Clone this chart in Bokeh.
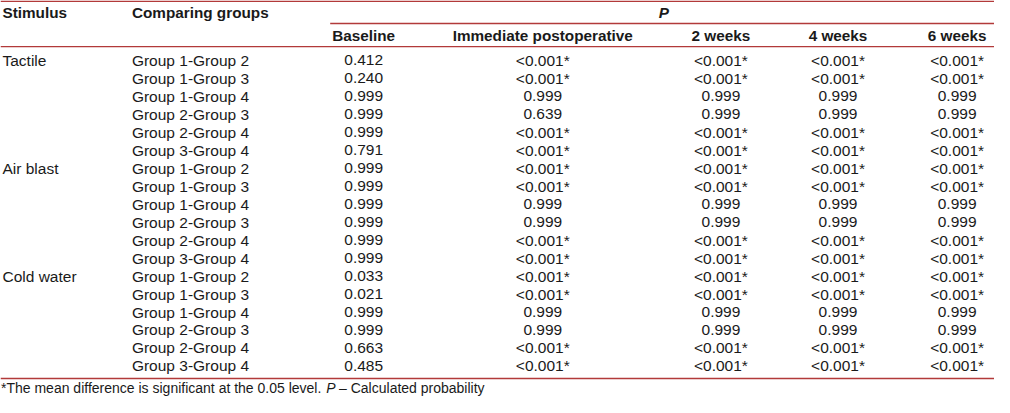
from bokeh.plotting import figure
from bokeh.models import Range1d, ColumnDataSource
from bokeh.core.properties import value
from bokeh.embed import file_html
from bokeh.resources import INLINE

# ---------------- data ----------------
stimuli = ["Tactile", "Air blast", "Cold water"]
comparisons = ["Group 1-Group 2", "Group 1-Group 3", "Group 1-Group 4",
               "Group 2-Group 3", "Group 2-Group 4", "Group 3-Group 4"]
time_points = ["Baseline", "Immediate postoperative", "2 weeks", "4 weeks", "6 weeks"]

baseline = ["0.412", "0.240", "0.999", "0.999", "0.999", "0.791",
            "0.999", "0.999", "0.999", "0.999", "0.999", "0.999",
            "0.033", "0.021", "0.999", "0.999", "0.663", "0.485"]
immediate = ["<0.001*", "<0.001*", "0.999", "0.639", "<0.001*", "<0.001*",
             "<0.001*", "<0.001*", "0.999", "0.999", "<0.001*", "<0.001*",
             "<0.001*", "<0.001*", "0.999", "0.999", "<0.001*", "<0.001*"]
week2 = ["<0.001*", "<0.001*", "0.999", "0.999", "<0.001*", "<0.001*",
         "<0.001*", "<0.001*", "0.999", "0.999", "<0.001*", "<0.001*",
         "<0.001*", "<0.001*", "0.999", "0.999", "<0.001*", "<0.001*"]
week4 = ["<0.001*", "<0.001*", "0.999", "0.999", "<0.001*", "<0.001*",
         "<0.001*", "<0.001*", "0.999", "0.999", "<0.001*", "<0.001*",
         "<0.001*", "<0.001*", "0.999", "0.999", "<0.001*", "<0.001*"]
week6 = ["<0.001*", "<0.001*", "0.999", "0.999", "<0.001*", "<0.001*",
         "<0.001*", "<0.001*", "0.999", "0.999", "<0.001*", "<0.001*",
         "<0.001*", "<0.001*", "0.999", "0.999", "<0.001*", "<0.001*"]

footer_note = "*The mean difference is significant at the 0.05 level."
footer_p = "P"
footer_rest = "\u2013 Calculated probability"

# ---------------- layout (reference pixel space) ----------------
W, H = 1010, 413
FONT = value("Liberation Sans")
RULE = "#b23a3a"
TXT = "#1a1a1a"
YOFF = -5.5          # screen-pixel correction of the text baseline
BODY = "15.5px"
HEAD = "15.3px"
FOOT = "14px"

col_x_stim = 2
col_x_grp = 133.5
col_centers = [369, 551, 732, 851, 972]
row0 = 67.7
row_step = 18.72

p = figure(width=994, height=397, output_backend="svg", toolbar_location=None,
           x_range=Range1d(0, W), y_range=Range1d(H, 0), min_border=0)
p.axis.visible = False
p.grid.visible = False
p.outline_line_color = None
p.background_fill_color = "white"
p.border_fill_color = "white"

common = dict(text_font=FONT, text_color=TXT, text_baseline="alphabetic", y_offset=YOFF)

# rules
p.segment(x0=[0, 335, 0, 0], x1=[W, W, W, W], y0=[0.8, 24, 48, 393.3],
          y1=[0.8, 24, 48, 393.3], line_color=RULE, line_width=1.4)

# header row 1
p.text(x=[col_x_stim, col_x_grp], y=[18.3, 18.3], text=["Stimulus", "Comparing groups"],
       text_font_size=HEAD, text_font_style="bold", text_align="left", **common)
p.text(x=[674], y=[18.3], text=["P"], text_font_size=HEAD,
       text_font_style="bold italic", text_align="center", **common)
# header row 2
p.text(x=col_centers, y=[41.7] * 5, text=time_points, text_font_size=HEAD,
       text_font_style="bold", text_align="center", **common)

# body
n_rows = len(stimuli) * len(comparisons)
row_y = [row0 + i * row_step for i in range(n_rows)]

stim_src = ColumnDataSource(dict(
    x=[col_x_stim] * len(stimuli),
    y=[row_y[i * len(comparisons)] for i in range(len(stimuli))],
    t=stimuli))
p.text(x="x", y="y", text="t", source=stim_src, text_font_size=BODY,
       text_align="left", **common)

grp_src = ColumnDataSource(dict(
    x=[col_x_grp] * n_rows, y=row_y, t=comparisons * len(stimuli)))
p.text(x="x", y="y", text="t", source=grp_src, text_font_size=BODY,
       text_align="left", **common)

xs, ys, ts = [], [], []
for cx, col in zip(col_centers, [baseline, immediate, week2, week4, week6]):
    for y, v in zip(row_y, col):
        xs.append(cx)
        ys.append(y)
        ts.append(v)
val_src = ColumnDataSource(dict(x=xs, y=ys, t=ts))
p.text(x="x", y="y", text="t", source=val_src, text_font_size=BODY,
       text_align="center", **common)

# footer
p.text(x=[0.5], y=[408.5], text=[footer_note], text_font_size=FOOT,
       text_align="left", **common)
p.text(x=[331], y=[408.5], text=[footer_p], text_font_size=FOOT,
       text_font_style="italic", text_align="left", **common)
p.text(x=[344], y=[408.5], text=[footer_rest], text_font_size=FOOT,
       text_align="left", **common)

open("out.html", "w").write(file_html(p, INLINE))
